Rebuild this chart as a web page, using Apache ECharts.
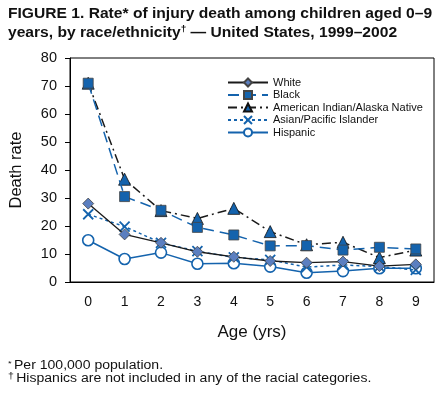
<!DOCTYPE html>
<html><head><meta charset="utf-8">
<script src="https://cdn.jsdelivr.net/npm/echarts@6/dist/echarts.min.js"></script>
<style>html,body{margin:0;padding:0;background:#fff}#c{width:447px;height:393px}</style>
</head><body><div id="c"></div>
<script>
const ages = ['0','1','2','3','4','5','6','7','8','9'];
const white    = [28, 17, 14, 10.8, 9, 7.5, 6.9, 7.3, 5.7, 6.3];
const black    = [71, 30.5, 25.6, 19.5, 16.8, 12.9, 13, 11.4, 12.4, 11.8];
const aian     = [71, 36.7, 25.5, 22.7, 26.3, 18, 13.3, 14.2, 8.7, 11.4];
const asianPI  = [24.2, 19.8, 14, 11, 8.8, 7.9, 5.3, 6.1, 5.5, 4.3];
const hispanic = [14.9, 8.2, 10.5, 6.5, 6.7, 5.5, 3.3, 3.9, 4.9, 4.9];
const yTicks = [0, 10, 20, 30, 40, 50, 60, 70, 80];

const BLUE = '#1463ad';
const DARK = '#1a1a1a';
const FONT = '"Liberation Sans", Arial, Helvetica, sans-serif';
const chart = echarts.init(document.getElementById('c'), null, {renderer: 'canvas'});
const crossPath = 'path://M0,0 L10,10 M10,0 L0,10';

chart.setOption({
  animation: false,
  textStyle: {fontFamily: FONT},
  grid: {left: 69, right: 13, top: 58, bottom: 111, show: true, borderColor: '#000', borderWidth: 1, backgroundColor: 'transparent'},
  legend: {
    left: 222, top: 72, orient: 'vertical',
    itemWidth: 40, itemHeight: 10, itemGap: 1.5,
    textStyle: {fontFamily: FONT, fontSize: 11, color: '#111', lineHeight: 10},
    data: ['White', 'Black', 'American Indian/Alaska Native', 'Asian/Pacific Islander', 'Hispanic']
  },
  xAxis: {
    type: 'category', data: ages, boundaryGap: true,
    name: 'Age (yrs)', nameLocation: 'middle', nameGap: 42,
    nameTextStyle: {fontFamily: FONT, fontSize: 17, color: '#111'},
    axisLine: {lineStyle: {color: '#000', width: 1}},
    axisTick: {alignWithLabel: true, length: 6, lineStyle: {color: '#000'}},
    axisLabel: {fontFamily: FONT, fontSize: 14, color: '#111', margin: 13}
  },
  yAxis: {
    type: 'value', min: 0, max: 80, interval: 10,
    name: 'Death rate', nameLocation: 'middle', nameGap: 45, nameRotate: 90,
    nameTextStyle: {fontFamily: FONT, fontSize: 16.5, color: '#111'},
    axisLine: {show: true, lineStyle: {color: '#000', width: 1}},
    axisTick: {show: true, length: 5, lineStyle: {color: '#000'}},
    splitLine: {show: false},
    axisLabel: {fontFamily: FONT, fontSize: 14.5, color: '#111', margin: 13,
      formatter: v => yTicks.includes(v) ? String(v) : ''}
  },
  series: [
    {name: 'White', type: 'line', data: white, symbol: 'diamond', symbolSize: 11,
     lineStyle: {color: DARK, width: 1.3, type: 'solid'},
     itemStyle: {color: '#5b7fc0', borderColor: '#444', borderWidth: 0.8}, z: 5},
    {name: 'Black', type: 'line', data: black, symbol: 'rect', symbolSize: 10,
     lineStyle: {color: BLUE, width: 1.5, type: [11, 6]},
     itemStyle: {color: BLUE, borderColor: '#444', borderWidth: 0.8}, z: 4},
    {name: 'American Indian/Alaska Native', type: 'line', data: aian, symbol: 'triangle', symbolSize: 12,
     lineStyle: {color: DARK, width: 1.5, type: [9, 4, 2, 4]},
     itemStyle: {color: BLUE, borderColor: '#111', borderWidth: 0.8}, z: 3},
    {name: 'Asian/Pacific Islander', type: 'line', data: asianPI, symbol: crossPath, symbolSize: 10,
     lineStyle: {color: BLUE, width: 1.5, type: [3, 3]},
     itemStyle: {color: BLUE, borderColor: BLUE, borderWidth: 1.8}, z: 2},
    {name: 'Hispanic', type: 'line', data: hispanic, symbol: 'circle', symbolSize: 11,
     lineStyle: {color: BLUE, width: 1.5, type: 'solid'},
     itemStyle: {color: '#fff', borderColor: BLUE, borderWidth: 1.6}, z: 1}
  ],
  graphic: [
    {type: 'text', x: 8, y: 14, scaleX: 1.115, style: {
      text: 'FIGURE 1. Rate* of injury death among children aged 0–9',
      fontFamily: FONT, fontSize: 14, fontWeight: 'bold', fill: '#111', verticalAlign: 'middle'}},
    {type: 'text', x: 8, y: 33, scaleX: 1.115, style: {
      text: 'years, by race/ethnicity{sup|†} — United States, 1999–2002',
      fontFamily: FONT, fontSize: 14, fontWeight: 'bold', fill: '#111', verticalAlign: 'middle',
      rich: {sup: {fontFamily: FONT, fontSize: 9, fontWeight: 'bold', verticalAlign: 'top', padding: [0,0,7,0]}}}},
    {type: 'text', x: 8, y: 366, scaleX: 1.17, style: {
      text: '{s|*}Per 100,000 population.', fontFamily: FONT, fontSize: 12, fill: '#111', verticalAlign: 'middle',
      rich: {s: {fontFamily: FONT, fontSize: 8, verticalAlign: 'top', padding: [0,2,4,0]}}}},
    {type: 'text', x: 8, y: 378.5, scaleX: 1.17, style: {
      text: '{s|†}Hispanics are not included in any of the racial categories.', fontFamily: FONT, fontSize: 12, fill: '#111', verticalAlign: 'middle',
      rich: {s: {fontFamily: FONT, fontSize: 9, verticalAlign: 'top', padding: [0,2,4,0]}}}}
  ]
});
</script></body></html>
